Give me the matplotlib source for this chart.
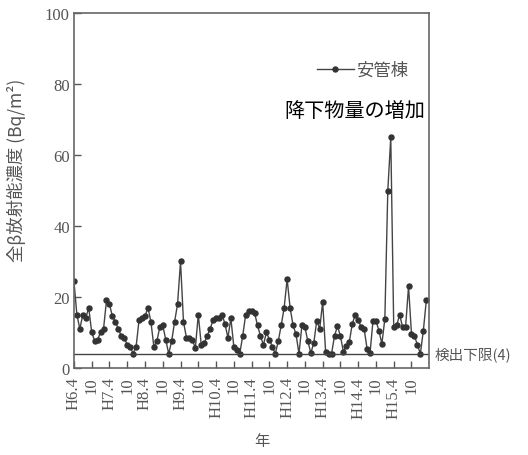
import matplotlib
matplotlib.use("Agg")
import matplotlib.pyplot as plt
import matplotlib.transforms as mtransforms
import numpy as np

plt.rcParams['font.family'] = ['Noto Sans CJK JP', 'DejaVu Sans']

# monthly values from H6.4 (index 0) to H16.3 (index 119)
values = [
    24.5, 15, 11, 15, 14, 17, 10, 7.7, 8, 10, 11, 19,          # H6.4 - H7.3
    18, 14.5, 13, 11, 9, 8.5, 6.5, 6, 4, 6, 13.5, 14,          # H7.4 - H8.3
    14.5, 17, 13, 6, 7.5, 11.5, 12, 8, 4, 7.5, 13, 18,         # H8.4 - H9.3
    30, 13, 8.5, 8.5, 8, 5.5, 15, 6.5, 7, 9, 11, 13.5,         # H9.4 - H10.3
    14, 14, 15, 12.5, 8.5, 14, 6, 5, 4, 9, 15, 16,             # H10.4 - H11.3
    16, 15.5, 12, 9, 6.5, 10, 8, 6, 4, 7.5, 12, 17,            # H11.4 - H12.3
    25, 17, 12, 9.5, 4, 12, 11.5, 7.5, 4.2, 7, 13.3, 11,       # H12.4 - H13.3
    18.6, 4.5, 3.9, 4, 9, 11.8, 9, 4.5, 6.3, 7.3, 12.4, 15,    # H13.4 - H14.3
    13.5, 11.5, 11, 5.4, 4.2, 13.3, 13.3, 10.5, 6.8, 13.8, 50, 65,  # H14.4 - H15.3
    11.5, 12, 15, 11.5, 11.5, 23, 9.5, 9, 6.5, 4, 10.5, 19,    # H15.4 - H16.3
]
tick_labels = ["H6.4", "10", "H7.4", "10", "H8.4", "10", "H9.4", "10",
               "H10.4", "10", "H11.4", "10", "H12.4", "10", "H13.4", "10",
               "H14.4", "10", "H15.4", "10"]
detection_limit = 4
series_name = "安管棟"

months = np.arange(len(values))

fig = plt.figure(figsize=(5.28, 4.56), dpi=100)
ax = fig.add_axes([0.140, 0.191, 0.673, 0.778])

gray = "#555555"
ax.plot(months, values, color="#444444", lw=1.0, marker="o", ms=3.6,
        mfc="#333333", mec="#333333", label=series_name)
ax.axhline(detection_limit, color="#444444", lw=1.0)

ax.set_xlim(0, 120)
ax.set_ylim(0, 100)
ax.set_yticks([0, 20, 40, 60, 80, 100])
ax.set_xticks(np.arange(0, 6 * len(tick_labels), 6))
ax.set_xticklabels(tick_labels, rotation=90, family=['Liberation Serif'],
                   fontsize=12, color=gray)
offset = mtransforms.ScaledTranslation(-2 / 100, 0, fig.dpi_scale_trans)
for lab in ax.get_xticklabels():
    lab.set_transform(lab.get_transform() + offset)
for lab in ax.get_yticklabels():
    lab.set_family(['Liberation Serif'])
    lab.set_fontsize(12)
    lab.set_color(gray)
ax.tick_params(direction="in", length=5, width=1, color="#555555", pad=3)
ax.tick_params(axis="x", pad=6)
for sp in ax.spines.values():
    sp.set_color("#666666")
    sp.set_linewidth(1.2)

ax.set_ylabel("全β放射能濃度 (Bq/m²)", fontsize=12.5, color=gray)
ax.yaxis.set_label_coords(-0.135, 0.56)
ax.set_xlabel("年", fontsize=11, color=gray)
ax.xaxis.set_label_coords(0.53, -0.18)

leg = ax.legend(loc="upper right", bbox_to_anchor=(0.985, 0.91), frameon=False,
                fontsize=12.5, handlelength=2.1, handletextpad=0.15,
                labelcolor=gray)

ax.text(0.99, 0.725, "降下物量の増加", transform=ax.transAxes, ha="right",
        va="center", fontsize=14.5, color="black")
ax.text(1.015, detection_limit, "検出下限(4)", transform=ax.get_yaxis_transform(),
        ha="left", va="center", fontsize=10.5, color=gray, clip_on=False)

fig.savefig("out.png", dpi=100)
